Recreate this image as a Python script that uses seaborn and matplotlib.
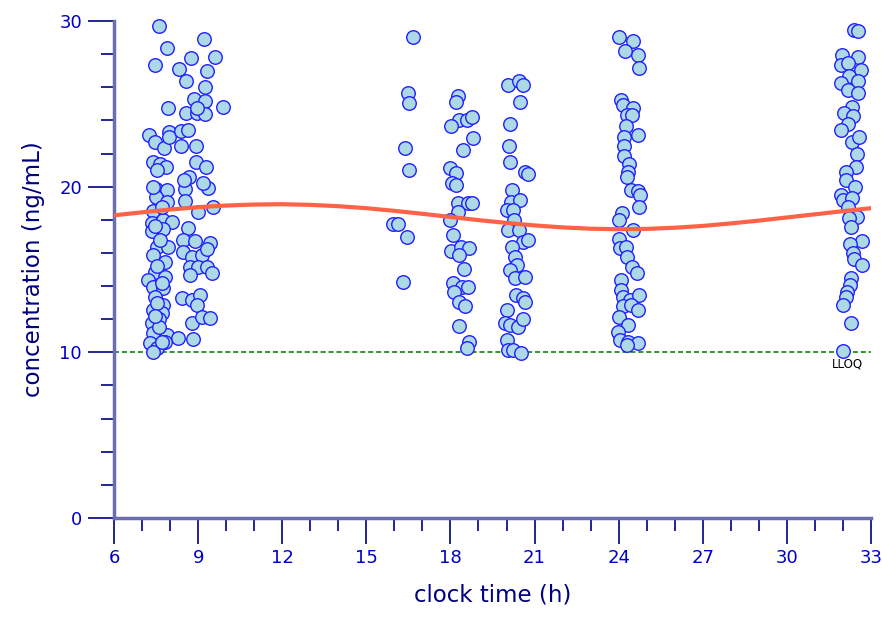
import numpy as np
import pandas as pd
import matplotlib
matplotlib.use('Agg')
import matplotlib.pyplot as plt
import seaborn as sns
from matplotlib.ticker import MultipleLocator

# Observed concentrations (clock time h, ng/mL), read per sampling cluster
clock_time_h = [
    # morning 7-10 h
    7.61, 9.21, 7.89, 8.75, 9.60, 7.46, 8.32, 9.32, 8.57, 9.25, 8.85, 9.25, 9.89, 7.93, 8.57, 8.96,
    9.25, 8.96, 7.25, 7.46, 7.78, 7.96, 7.96, 8.39, 8.64, 8.39, 8.92, 7.39, 7.64, 7.85, 8.92, 9.28,
    8.67, 7.50, 7.89, 7.50, 7.89, 8.53, 8.50, 8.53, 9.35, 9.17, 7.39, 9.00, 9.53, 7.36, 7.75, 8.07,
    7.36, 7.75, 8.64, 8.46, 8.89, 9.42, 7.53, 7.93, 7.39, 7.82, 8.46, 8.78, 9.14, 9.32, 7.46, 7.82,
    8.71, 9.00, 9.32, 9.49, 8.71, 7.21, 7.39, 7.75, 7.46, 7.75, 8.43, 8.78, 9.07, 8.96, 7.39, 7.71,
    8.78, 9.14, 9.42, 7.36, 7.39, 7.89, 8.28, 8.82, 7.28, 7.53, 7.82, 7.39, 7.60, 7.55, 7.70, 7.55,
    7.65, 7.45, 7.70, 7.40, 7.55, 7.70, 7.60, 7.45,
    # 16-17 h
    16.66, 16.49, 16.52, 16.38, 16.52, 15.95, 16.13, 16.45, 16.31,
    # 18-19 h
    18.27, 18.20, 18.30, 18.59, 18.77, 18.02, 18.80, 18.45, 17.98, 18.20, 18.05, 18.20, 18.27, 18.62,
    18.77, 18.27, 17.98, 18.09, 18.02, 18.38, 18.66, 18.30, 18.48, 18.09, 18.41, 18.62, 18.13, 18.30,
    18.52, 18.30, 18.66, 18.59,
    # 20-21 h
    20.05, 20.44, 20.59, 20.48, 20.12, 20.09, 20.12, 20.66, 20.76, 20.19, 20.16, 20.48, 20.02, 20.23,
    20.27, 20.05, 20.44, 20.59, 20.76, 20.19, 20.30, 20.37, 20.12, 20.30, 20.66, 20.34, 20.59, 20.66,
    20.02, 19.94, 20.12, 20.41, 20.59, 20.02, 20.05, 20.23, 20.52,
    # 24 h
    24.01, 24.51, 24.22, 24.69, 24.72, 24.08, 24.15, 24.51, 24.29, 24.47, 24.26, 24.69, 24.19, 24.19,
    24.19, 24.37, 24.33, 24.29, 24.44, 24.69, 24.76, 24.72, 24.12, 24.01, 24.51, 24.01, 24.05, 24.26,
    24.29, 24.47, 24.65, 24.08, 24.08, 24.15, 24.40, 24.72, 24.15, 24.44, 24.69, 24.01, 24.33, 23.97,
    24.05, 24.33, 24.69, 24.29,
    # 32 h
    32.39, 32.53, 31.96, 32.53, 31.93, 32.18, 32.64, 32.21, 32.53, 31.93, 32.18, 32.53, 32.32, 32.03,
    32.36, 32.18, 31.93, 32.32, 32.57, 32.50, 32.46, 32.11, 32.11, 32.43, 31.93, 32.00, 32.32, 32.18,
    32.50, 32.21, 32.28, 32.67, 32.25, 32.36, 32.39, 32.67, 32.28, 32.25, 32.14, 32.11, 32.00, 32.28,
    32.00,
]
concentration = [
    29.69, 28.91, 28.36, 27.76, 27.82, 27.34, 27.10, 26.98, 26.37, 26.01, 25.29, 25.17, 24.80, 24.74, 24.44, 24.44,
    24.38, 24.74, 23.11, 22.69, 22.33, 23.29, 22.99, 23.36, 23.42, 22.45, 22.45, 21.48, 21.36, 21.18, 21.48, 21.18,
    20.58, 19.86, 19.79, 19.37, 19.07, 19.86, 20.40, 19.13, 19.92, 20.22, 18.53, 18.47, 18.77, 17.80, 17.98, 17.86,
    17.32, 17.44, 17.50, 16.78, 16.72, 16.60, 16.36, 16.36, 15.87, 15.45, 16.05, 15.75, 15.87, 16.23, 14.85, 14.54,
    15.15, 15.15, 15.15, 14.79, 14.67, 14.36, 13.94, 13.88, 13.34, 12.85, 13.28, 13.16, 13.46, 12.85, 12.55, 12.37,
    11.77, 12.13, 12.07, 11.77, 11.16, 11.04, 10.86, 10.80, 10.56, 10.26, 10.62, 10.02, 12.00, 13.00, 14.20, 15.20,
    16.80, 17.60, 18.80, 20.00, 21.00, 10.60, 11.50, 12.20,
    29.03, 25.65, 25.05, 22.33, 21.00, 17.74, 17.74, 16.96, 14.24,
    25.47, 25.11, 24.02, 24.02, 24.20, 23.66, 22.93, 22.21, 21.12, 20.82, 20.22, 20.10, 19.01, 19.01,
    19.01, 18.47, 17.98, 17.08, 16.11, 16.35, 16.29, 15.87, 15.03, 14.18, 13.94, 13.94, 13.64, 13.04,
    12.79, 11.59, 10.62, 10.26,
    26.13, 26.37, 26.13, 25.11, 23.78, 22.45, 21.48, 20.88, 20.76, 19.79, 19.07, 19.19, 18.59, 18.59,
    17.98, 17.38, 17.38, 16.66, 16.78, 16.36, 15.75, 15.27, 14.97, 14.48, 14.54, 13.46, 13.28, 13.04,
    12.55, 11.77, 11.65, 11.53, 12.01, 10.74, 10.14, 10.14, 9.96,
    29.03, 28.79, 28.18, 27.94, 27.16, 25.23, 24.92, 24.74, 24.32, 24.32, 23.66, 23.11, 22.99, 22.45,
    21.85, 21.36, 20.88, 20.58, 19.79, 19.73, 19.49, 18.77, 18.41, 17.98, 17.38, 16.84, 16.29, 16.35,
    15.75, 15.15, 14.79, 14.36, 13.76, 13.34, 13.16, 13.46, 12.79, 12.85, 12.55, 12.13, 11.65, 11.23,
    10.74, 10.62, 10.56, 10.44,
    29.45, 29.39, 27.94, 27.82, 27.34, 27.46, 27.04, 26.67, 26.37, 26.25, 25.83, 25.65, 24.80, 24.44,
    24.26, 23.78, 23.42, 22.69, 22.99, 21.97, 21.18, 20.88, 20.40, 19.98, 19.49, 19.19, 19.31, 18.77,
    18.17, 18.11, 17.56, 16.72, 16.54, 15.99, 15.63, 15.27, 14.48, 14.06, 13.64, 13.34, 12.85, 11.77,
    10.08,
]

# Fitted 24 h rhythm, read at each hour
fit_time_h = list(range(6, 34))
fit_conc = [18.27, 18.45, 18.62, 18.76, 18.86, 18.92, 18.94, 18.90, 18.82, 18.70, 18.54, 18.36,
            18.17, 17.98, 17.81, 17.66, 17.54, 17.46, 17.43, 17.45, 17.52, 17.63, 17.78, 17.95,
            18.14, 18.33, 18.52, 18.70]

lloq = 10

obs = pd.DataFrame({'time': clock_time_h, 'conc': concentration})
fit = pd.DataFrame({'time': fit_time_h, 'conc': fit_conc})

sns.set_style('ticks')
plt.rcParams['font.family'] = ['DejaVu Sans']

navy = '#000080'
blue = '#0000c8'

fig = plt.figure(figsize=(8.82, 6.19), dpi=100)
ax = fig.add_axes([0.1293, 0.1632, 0.8582, 0.8029])

# LLOQ reference line
ax.axhline(lloq, color='#228b22', lw=1.3, ls=(0, (2.8, 1.6)), zorder=1)
ax.text(32.15, lloq - 0.3, 'LLOQ', ha='center', va='top', fontsize=8.5, color='black')

sns.scatterplot(data=obs, x='time', y='conc', ax=ax, s=95,
                color='#add8e6', edgecolor='#2020ff', linewidth=1, zorder=3, clip_on=False)

sns.lineplot(data=fit, x='time', y='conc', ax=ax, color='#ff6347', lw=3, zorder=4)

ax.set_xlim(6, 33)
ax.set_ylim(0, 30)
ax.xaxis.set_major_locator(MultipleLocator(3))
ax.xaxis.set_minor_locator(MultipleLocator(1))
ax.yaxis.set_major_locator(MultipleLocator(10))
ax.yaxis.set_minor_locator(MultipleLocator(2))

for side in ['top', 'right']:
    ax.spines[side].set_visible(False)
for side in ['left', 'bottom']:
    ax.spines[side].set_color('#6c6cb0')
    ax.spines[side].set_linewidth(2.5)

ax.tick_params(which='both', bottom=True, left=True, top=False, right=False)
ax.tick_params(which='major', direction='out', length=19, width=1.2, color=navy,
               labelcolor=blue, labelsize=13, pad=3)
ax.tick_params(which='minor', direction='out', length=9.5, width=1.2, color=navy)
ax.tick_params(axis='y', which='major', pad=4)

ax.set_xlabel('clock time (h)', fontsize=16.5, color=navy, labelpad=12)
ax.set_ylabel('concentration (ng/mL)', fontsize=16.5, color=navy, labelpad=10)

fig.savefig('out.png', dpi=100)
